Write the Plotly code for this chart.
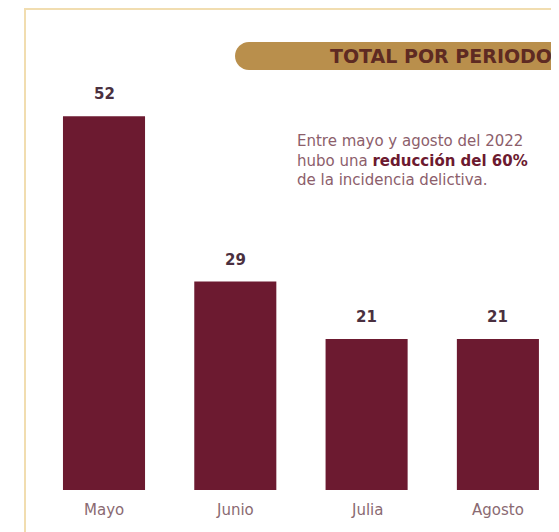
import plotly.graph_objects as go

months = ["Mayo", "Junio", "Julia", "Agosto"]
totals = [52, 29, 21, 21]
title_text = "TOTAL POR PERIODO"
note_line_1 = "Entre mayo y agosto del 2022"
note_line_2a = "hubo una "
note_line_2b = "reducción del 60%"
note_line_3 = "de la incidencia delictiva."

W, H = 559, 532
OFF = 8  # page body margin of the browser
BAR = "#6C1A30"
GOLD = "#B98F4C"


def px(x):
    return (x - OFF) / W


def py(y):
    return 1 - (y - OFF) / H


fig = go.Figure()
fig.add_trace(go.Bar(
    x=list(range(len(months))), y=totals,
    marker=dict(color=BAR, line=dict(width=0)),
    hoverinfo="skip",
))

# frame
frame = dict(type="rect", xref="paper", yref="paper",
             x0=px(25), x1=px(W + 30), y0=py(H + 30), y1=py(9),
             line=dict(color="#F1DDB0", width=2), fillcolor="rgba(0,0,0,0)", layer="below")

# pill
x0, x1, y0, y1 = 235, W + 30, 42, 70
r = (y1 - y0) / 2
path = (f"M {px(x0 + r)},{py(y0)} L {px(x1)},{py(y0)} L {px(x1)},{py(y1)} L {px(x0 + r)},{py(y1)} "
        f"C {px(x0 + r * 0.45)},{py(y1)} {px(x0)},{py(y1 - r * 0.45)} {px(x0)},{py(y0 + r)} "
        f"C {px(x0)},{py(y0 + r * 0.45)} {px(x0 + r * 0.45)},{py(y0)} {px(x0 + r)},{py(y0)} Z")
pill = dict(type="path", xref="paper", yref="paper", path=path,
            fillcolor=GOLD, line=dict(width=0), layer="below")

annotations = [
    dict(xref="paper", yref="paper", x=px(554), y=py(56), text=f"<b>{title_text}</b>",
         showarrow=False, xanchor="right", yanchor="middle",
         font=dict(family="DejaVu Sans", size=19, color="#5E2A22")),
    dict(xref="paper", yref="paper", x=px(295), y=py(130), xanchor="left",
         yanchor="top", align="left", showarrow=False,
         text=(f"{note_line_1}<br>{note_line_2a}<b><span style='color:{BAR}'>{note_line_2b}</span></b>"
               f"<br>{note_line_3}"),
         font=dict(family="DejaVu Sans", size=15, color="#8C5E6B")),
]

for i, v in enumerate(totals):
    annotations.append(dict(xref="x", yref="y", x=i, y=v, text=f"<b>{v}</b>", showarrow=False,
                            xanchor="center", yanchor="middle", yshift=22,
                            font=dict(family="DejaVu Sans", size=15, color="#4A3040")))
    annotations.append(dict(xref="x", yref="paper", x=i, y=py(510), text=months[i],
                            showarrow=False, xanchor="center", yanchor="middle",
                            font=dict(family="DejaVu Sans", size=15, color="#8A6A72")))

fig.update_layout(
    width=W, height=H, margin=dict(l=0, r=0, t=0, b=0),
    paper_bgcolor="white", plot_bgcolor="white",
    showlegend=False, bargap=0.375,
    xaxis=dict(range=[-0.7312, 3.5263], visible=False, showgrid=False, zeroline=False),
    yaxis=dict(range=[-6.954, 67.04], visible=False, showgrid=False, zeroline=False),
    shapes=[frame, pill],
    annotations=annotations,
)

fig.write_html("out.html")
